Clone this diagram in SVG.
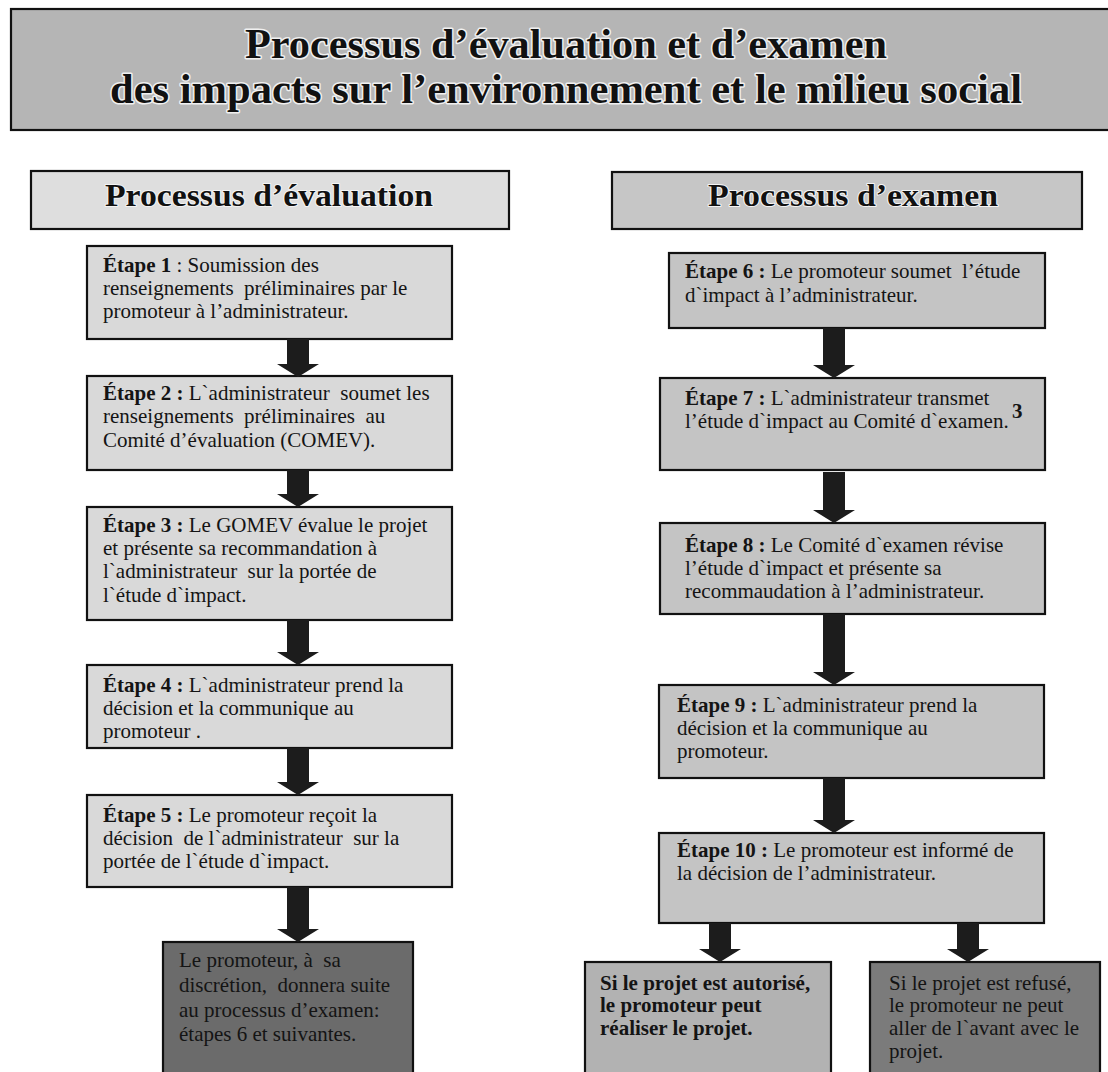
<svg xmlns="http://www.w3.org/2000/svg" width="1108" height="1072" viewBox="0 0 1108 1072">
<style>
.box{stroke:#111;stroke-width:2.2}
.t{font-family:"Liberation Serif","Times New Roman",serif;font-size:21px;fill:#141414}
.b{font-weight:bold}
.ttl{font-family:"Liberation Serif","Times New Roman",serif;font-weight:bold;fill:#111;stroke:#f0f0f0;stroke-width:3;paint-order:stroke;stroke-linejoin:round;text-anchor:middle}
.hdr{font-family:"Liberation Serif","Times New Roman",serif;font-weight:bold;font-size:32px;fill:#111;stroke:#f4f4f4;stroke-width:2;paint-order:stroke;stroke-linejoin:round;text-anchor:middle}
.arrow{fill:#1c1c1c}
.lt{fill:#d9d9d9}
.md{fill:#c4c4c4}
</style>
<rect width="1108" height="1072" fill="#ffffff"/>

<g id="title">
<rect class="box" x="11" y="9" width="1100" height="121" fill="#b5b5b5" stroke-width="2.5"/>
<text class="ttl" x="566" y="58" font-size="42" textLength="642" lengthAdjust="spacingAndGlyphs">Processus d’évaluation et d’examen</text>
<text class="ttl" x="566" y="103" font-size="42" textLength="912" lengthAdjust="spacingAndGlyphs">des impacts sur l’environnement et le milieu social</text>
</g>

<g id="hdr-eval">
<rect class="box" x="31" y="171" width="478" height="58" fill="#dedede"/>
<text class="hdr" x="269" y="206" textLength="328" lengthAdjust="spacingAndGlyphs">Processus d’évaluation</text>
</g>

<g id="hdr-exam">
<rect class="box" x="612" y="172" width="470" height="57" fill="#c6c6c6"/>
<text class="hdr" x="853" y="206" textLength="290" lengthAdjust="spacingAndGlyphs">Processus d’examen</text>
</g>

<g id="step1">
<rect class="box lt" x="87" y="246" width="365" height="93"/>
<text class="t" x="103" y="272"><tspan class="b">Étape 1</tspan> : Soumission des</text>
<text class="t" x="103" y="295" xml:space="preserve">renseignements  préliminaires par le</text>
<text class="t" x="103" y="318">promoteur à l’administrateur.</text>
</g>

<g id="step2">
<rect class="box lt" x="87" y="376" width="365" height="94"/>
<text class="t" x="103" y="400" xml:space="preserve"><tspan class="b">Étape 2 :</tspan> L`administrateur  soumet les</text>
<text class="t" x="103" y="423" xml:space="preserve">renseignements  préliminaires  au</text>
<text class="t" x="103" y="447">Comité d’évaluation (COMEV).</text>
</g>

<g id="step3">
<rect class="box lt" x="87" y="507" width="365" height="113"/>
<text class="t" x="103" y="532"><tspan class="b">Étape 3 :</tspan> Le GOMEV évalue le projet</text>
<text class="t" x="103" y="555">et présente sa recommandation à</text>
<text class="t" x="103" y="578" xml:space="preserve">l`administrateur  sur la portée de</text>
<text class="t" x="103" y="602">l`étude d`impact.</text>
</g>

<g id="step4">
<rect class="box lt" x="87" y="665" width="365" height="83"/>
<text class="t" x="103" y="692"><tspan class="b">Étape 4 :</tspan> L`administrateur prend la</text>
<text class="t" x="103" y="715">décision et la communique au</text>
<text class="t" x="103" y="738">promoteur .</text>
</g>

<g id="step5">
<rect class="box lt" x="87" y="795" width="365" height="92"/>
<text class="t" x="103" y="822"><tspan class="b">Étape 5 :</tspan> Le promoteur reçoit la</text>
<text class="t" x="103" y="845" xml:space="preserve">décision  de l`administrateur  sur la</text>
<text class="t" x="103" y="868">portée de l`étude d`impact.</text>
</g>

<g id="eval-end">
<rect class="box" x="163" y="942" width="250" height="135" fill="#6b6b6b"/>
<text class="t" x="179" y="967" fill="#e6e6e6" xml:space="preserve">Le promoteur, à  sa</text>
<text class="t" x="179" y="992" fill="#e6e6e6" xml:space="preserve">discrétion,  donnera suite</text>
<text class="t" x="179" y="1017" fill="#e6e6e6">au processus d’examen:</text>
<text class="t" x="179" y="1041" fill="#e6e6e6">étapes 6 et suivantes.</text>
</g>

<g id="step6">
<rect class="box md" x="669" y="253" width="376" height="75"/>
<text class="t" x="685" y="278" xml:space="preserve"><tspan class="b">Étape 6 :</tspan> Le promoteur soumet  l’étude</text>
<text class="t" x="685" y="302">d`impact à l’administrateur.</text>
</g>

<g id="step7">
<rect class="box md" x="660" y="378" width="385" height="92"/>
<text class="t" x="685" y="405"><tspan class="b">Étape 7 :</tspan> L`administrateur transmet</text>
<text class="t" x="685" y="428">l’étude d`impact au Comité d`examen.</text>
<text class="t b" x="1012" y="418" font-size="11">3</text>
</g>

<g id="step8">
<rect class="box md" x="660" y="523" width="385" height="91"/>
<text class="t" x="685" y="552"><tspan class="b">Étape 8 :</tspan> Le Comité d`examen révise</text>
<text class="t" x="685" y="575">l’étude d`impact et présente sa</text>
<text class="t" x="685" y="598">recommaudation à l’administrateur.</text>
</g>

<g id="step9">
<rect class="box md" x="659" y="685" width="385" height="93"/>
<text class="t" x="677" y="712"><tspan class="b">Étape 9 :</tspan> L`administrateur prend la</text>
<text class="t" x="677" y="735">décision et la communique au</text>
<text class="t" x="677" y="758">promoteur.</text>
</g>

<g id="step10">
<rect class="box md" x="659" y="833" width="385" height="90"/>
<text class="t" x="677" y="857"><tspan class="b">Étape 10 :</tspan> Le promoteur est informé de</text>
<text class="t" x="677" y="880">la décision de l’administrateur.</text>
</g>

<g id="approved">
<rect class="box" x="585" y="962" width="246" height="115" fill="#b2b2b2"/>
<text class="t b" x="600" y="990">Si le projet est autorisé,</text>
<text class="t b" x="600" y="1012">le promoteur peut</text>
<text class="t b" x="600" y="1035">réaliser le projet.</text>
</g>

<g id="refused">
<rect class="box" x="870" y="962" width="230" height="115" fill="#7b7b7b"/>
<text class="t" x="889" y="990" fill="#1e1e1e">Si le projet est refusé,</text>
<text class="t" x="889" y="1012" fill="#1e1e1e">le promoteur ne peut</text>
<text class="t" x="889" y="1035" fill="#1e1e1e">aller de l`avant avec le</text>
<text class="t" x="889" y="1058" fill="#1e1e1e">projet.</text>
</g>

<g id="connectors">
<path class="arrow" d="M287 339 H309 V364 H319 L298 377 L277 364 H287 Z"/>
<path class="arrow" d="M287 470 H309 V494 H319 L298 507 L277 494 H287 Z"/>
<path class="arrow" d="M287 620 H309 V652 H319 L298 665 L277 652 H287 Z"/>
<path class="arrow" d="M287 748 H309 V782 H319 L298 795 L277 782 H287 Z"/>
<path class="arrow" d="M287 887 H309 V929 H319 L298 942 L277 929 H287 Z"/>
<path class="arrow" d="M823 328 H845 V365 H855 L834 378 L813 365 H823 Z"/>
<path class="arrow" d="M823 472 H845 V510 H855 L834 523 L813 510 H823 Z"/>
<path class="arrow" d="M823 614 H845 V672 H855 L834 685 L813 672 H823 Z"/>
<path class="arrow" d="M823 778 H845 V820 H855 L834 833 L813 820 H823 Z"/>
<path class="arrow" d="M709 923 H731 V949 H741 L720 962 L699 949 H709 Z"/>
<path class="arrow" d="M957 923 H979 V949 H989 L968 962 L947 949 H957 Z"/>
</g>
</svg>
